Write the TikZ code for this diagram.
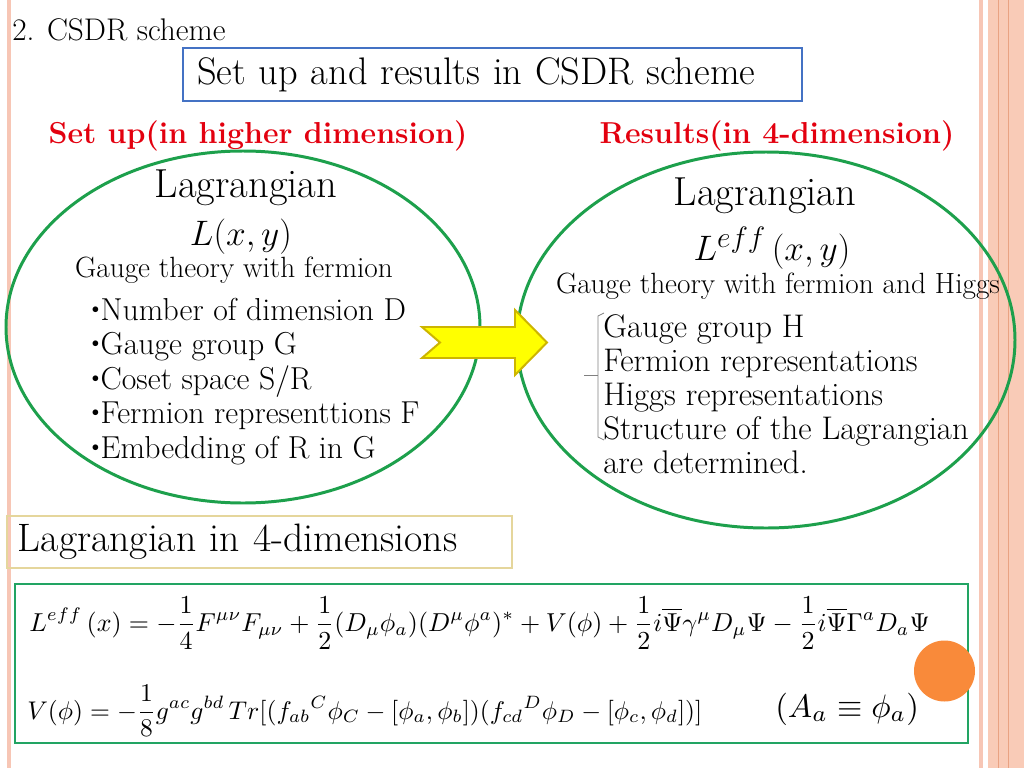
\documentclass[tikz,border=0pt]{standalone}
\usepackage{graphicx}

\definecolor{stripelight}{HTML}{F7C6B5}
\definecolor{stripe}{HTML}{F9CBB7}
\definecolor{stripedark}{HTML}{E9A282}
\definecolor{ovalgreen}{HTML}{1DA04C}
\definecolor{boxgreen}{HTML}{22A463}
\definecolor{titleblue}{HTML}{4472C4}
\definecolor{headred}{HTML}{E3000F}
\definecolor{tanline}{HTML}{E5D69C}
\definecolor{arrowyellow}{HTML}{FFFF00}
\definecolor{arrowedge}{HTML}{CDB500}
\definecolor{dotorange}{HTML}{F98A3A}

\newcommand{\fsz}[1]{\fontsize{#1}{#1}\selectfont}
\newcommand{\bul}{\raisebox{0.12em}{\scalebox{0.8}{\textbullet}}\kern-0.12em}

\tikzset{
  lbl/.style={inner sep=0pt, anchor=base},
  lblw/.style={inner sep=0pt, anchor=base west},
  oval/.style={draw=ovalgreen, line width=2.1pt},
  head/.style={lbl, text=headred, font=\fsz{21.3}\bfseries},
  eqn/.style={inner sep=0pt, anchor=west},
}

\begin{document}
\begin{tikzpicture}[x=0.703pt, y=-0.703pt]
\useasboundingbox (0,0) rectangle (1024,768);
\fill[white] (0,0) rectangle (1024,768);

% side stripes
\fill[stripelight] (7,0) rectangle (11,768);
\fill[stripelight] (979,0) rectangle (983,768);
\fill[stripe] (988,0) rectangle (1024,768);
\foreach \x in {998,1008}{
	\draw[stripedark, line width=0.6pt] (\x,0) -- (\x,768);
}

% title
\node[lblw, font=\fsz{22}] (sec) at (12,40) {2. CSDR scheme};
\node[draw=titleblue, line width=1.8pt, inner xsep=10pt, text width=415pt,
	align=left, minimum height=37.3pt, font=\fsz{27}] (title) at (492.5,74.5)
	{Set up and results in CSDR scheme};

\node[head] (setup) at (258,143) {Set up(in higher dimension)};
\node[head] (result) at (777,143) {Results(in 4-dimension)};

% the two ovals
\draw[oval] (243,327) ellipse [x radius=237, y radius=176];
\draw[oval] (766,340) ellipse [x radius=249, y radius=188];

% left oval
\node[lbl, font=\fsz{28.5}] (lagL) at (246,197) {Lagrangian};
\node[lbl, font=\fsz{26}] (LL) at (241,245) {$L(x,y)$};
\node[lbl, font=\fsz{20.6}] (gaugeL) at (234,277) {Gauge theory with fermion};
\foreach \t [count=\i] in {Number of dimension D, Gauge group G, Coset space S/R,
	Fermion representtions F, Embedding of R in G}{
	\node[lblw, font=\fsz{22.3}] (in\i) at (86,{320+34.5*(\i-1)}) {\bul\t};
}

% right oval
\node[lbl, font=\fsz{28.5}] (lagR) at (765,205) {Lagrangian};
\node[lbl, font=\fsz{28}] (LR) at (772,260) {$L^{eff}\,(x,y)$};
\node[lbl, font=\fsz{20.6}] (gaugeR) at (778,293) {Gauge theory with fermion and Higgs};
\foreach \t [count=\i] in {Gauge group H, Fermion representations, Higgs representations,
	Structure of the Lagrangian, are determined.}{
	\node[lblw, font=\fsz{23}] (out\i) at (603,{337+34*(\i-1)}) {\t};
}
\draw[gray, line width=0.6pt] (604,313) -- (598,316) -- (598,437) -- (604,440);
\draw[gray, line width=0.6pt] (584,375) -- (598,375);

% yellow arrow
\filldraw[fill=arrowyellow, draw=arrowedge, line width=1.4pt, line join=miter]
	(422,327) -- (515,327) -- (515,310) -- (547,342.5) -- (515,375) -- (515,358)
	-- (422,358) -- (440,342.5) -- cycle;

% lagrangian in 4 dimensions
\node[draw=tanline, line width=0.8pt, inner xsep=7.7pt, text width=339.6pt,
	align=left, minimum height=36.6pt, font=\fsz{27.9}] (lag4) at (259.5,542)
	{Lagrangian in 4-dimensions};

\draw[boxgreen, line width=1.5pt] (15,584) rectangle (968,743);
\node[eqn] (eq1) at (29,623) {\resizebox{633pt}{!}{$\displaystyle
	L^{eff}\,(x)=-\frac{1}{4}F^{\mu\nu}F_{\mu\nu}+\frac{1}{2}(D_\mu\phi_a)(D^\mu\phi^a)^*
	+V(\phi)+\frac{1}{2}i\overline{\Psi}\gamma^\mu D_\mu\Psi-\frac{1}{2}i\overline{\Psi}\Gamma^a D_a\Psi$}};
\node[eqn] (eq2) at (27,711) {\resizebox{474.5pt}{!}{$\displaystyle
	V(\phi)=-\frac{1}{8}g^{ac}g^{bd}\,Tr[(f_{ab}{}^{C}\phi_C-[\phi_a,\phi_b])(f_{cd}{}^{D}\phi_D-[\phi_c,\phi_d])]$}};
\node[eqn] (eq3) at (775,709) {\resizebox{101pt}{!}{$(A_a\equiv\phi_a)$}};

\fill[dotorange] (944.5,671) circle [radius=30.5];

\end{tikzpicture}
\end{document}
